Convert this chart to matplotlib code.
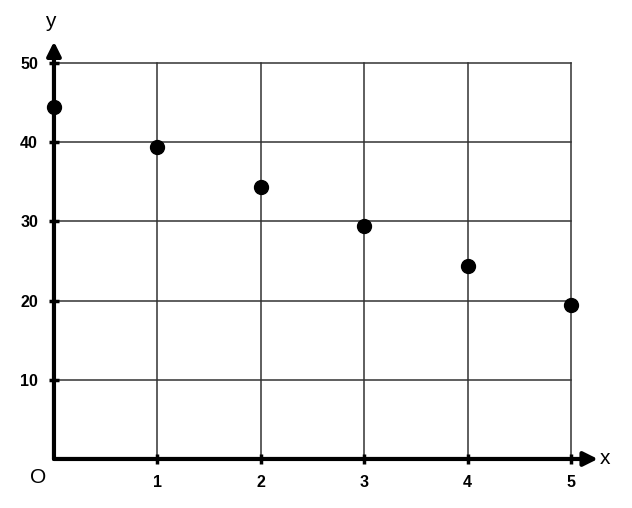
import matplotlib.pyplot as plt

plt.rcParams['font.family'] = ['Liberation Sans', 'DejaVu Sans']

x_vals = [0, 1, 2, 3, 4, 5]
y_vals = [44.4, 39.4, 34.4, 29.4, 24.4, 19.4]
x_ticks = [1, 2, 3, 4, 5]
y_ticks = [10, 20, 30, 40, 50]

fig = plt.figure(figsize=(6.32, 5.08), dpi=100)
ax = fig.add_axes([0.0854, 0.0965, 0.818, 0.7795])
ax.set_xlim(0, 5)
ax.set_ylim(0, 50)

# grid
for xv in x_ticks:
    ax.axvline(xv, color='#333333', lw=1.1, zorder=1, clip_on=False)
for yv in y_ticks:
    ax.axhline(yv, color='#333333', lw=1.1, zorder=1, clip_on=False)

for s in ax.spines.values():
    s.set_visible(False)

# axes with arrows
ax.annotate('', xy=(5.26, 0), xytext=(0, 0), xycoords='data',
            arrowprops=dict(arrowstyle='-|>,head_length=0.6,head_width=0.3', lw=3,
                            color='black', mutation_scale=14, shrinkA=0, shrinkB=0),
            annotation_clip=False, zorder=3)
ax.annotate('', xy=(0, 52.7), xytext=(0, 0), xycoords='data',
            arrowprops=dict(arrowstyle='-|>,head_length=0.6,head_width=0.3', lw=3,
                            color='black', mutation_scale=14, shrinkA=0, shrinkB=0),
            annotation_clip=False, zorder=3)

ax.set_xticks(x_ticks)
ax.set_yticks(y_ticks)
ax.tick_params(axis='both', direction='inout', length=7, width=2.5, color='black',
               labelsize=11.5, pad=8)
for lab in ax.get_xticklabels() + ax.get_yticklabels():
    lab.set_fontweight('bold')

ax.scatter(x_vals, y_vals, s=100, color='black', zorder=5, clip_on=False)

ax.text(5.33, 0, 'x', fontsize=15, ha='center', va='center')
ax.text(-0.04, 55.3, 'y', fontsize=15, ha='center', va='center')
ax.text(-0.15, -2.3, 'O', fontsize=15, ha='center', va='center')

fig.savefig('out.png', dpi=100)
